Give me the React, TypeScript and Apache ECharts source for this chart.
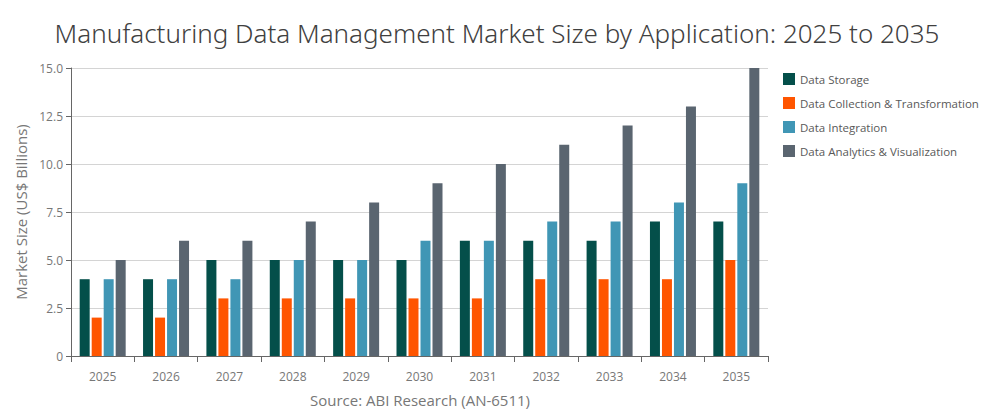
import { useEffect, useRef } from "react";
import * as echarts from "echarts";

const years = ["2025", "2026", "2027", "2028", "2029", "2030", "2031", "2032", "2033", "2034", "2035"];
const dataStorage = [4, 4, 5, 5, 5, 5, 6, 6, 6, 7, 7];
const dataCollection = [2, 2, 3, 3, 3, 3, 3, 4, 4, 4, 5];
const dataIntegration = [4, 4, 4, 5, 5, 6, 6, 7, 7, 8, 9];
const dataAnalytics = [5, 6, 6, 7, 8, 9, 10, 11, 12, 13, 15];

const seriesNames = [
  "Data Storage",
  "Data Collection & Transformation",
  "Data Integration",
  "Data Analytics & Visualization",
];
const colors = ["#044f4a", "#ff5500", "#4096b5", "#5a6570"];

const font = "'Open Sans', 'Noto Sans', sans-serif";

const App = () => {
  const chartRef = useRef<HTMLDivElement | null>(null);

  useEffect(() => {
    if (!chartRef.current) {
      return;
    }
    const instance = echarts.init(chartRef.current, undefined, { renderer: "svg" });
    const values = [dataStorage, dataCollection, dataIntegration, dataAnalytics];

    const option: echarts.EChartsOption = {
      animation: false,
      color: colors,
      textStyle: { fontFamily: font },
      title: {
        text: "Manufacturing Data Management Market Size by Application: 2025 to 2035",
        left: "center",
        top: 15,
        textStyle: {
          fontFamily: "'Noto Sans', 'Open Sans', sans-serif",
          fontSize: 26,
          fontWeight: 300,
          color: "#404040",
        },
      },
      legend: {
        orient: "vertical",
        left: 778,
        top: 68,
        itemWidth: 12,
        itemHeight: 12,
        itemGap: 12,
        icon: "rect",
        textStyle: { fontSize: 11.5, color: "#595959", fontFamily: font },
      },
      grid: { left: 71, right: 226, top: 68, bottom: 64 },
      xAxis: {
        type: "category",
        data: years,
        axisLine: { lineStyle: { color: "#666666" } },
        axisTick: { show: true, length: 6, lineStyle: { color: "#666666" } },
        axisLabel: { color: "#777777", fontSize: 12, margin: 14 },
      },
      yAxis: {
        type: "value",
        min: 0,
        max: 15,
        interval: 2.5,
        name: "Market Size (US$ Billions)",
        nameLocation: "middle",
        nameGap: 43,
        nameTextStyle: { color: "#777777", fontSize: 15, fontFamily: font },
        axisLine: { show: true, lineStyle: { color: "#666666" } },
        axisTick: { show: true, length: 5, lineStyle: { color: "#666666" } },
        axisLabel: {
          color: "#777777",
          fontSize: 12,
          margin: 8,
          formatter: (v: number) => (v === 0 ? "0" : v.toFixed(1)),
        },
        splitLine: { lineStyle: { color: "#d4d4d4" } },
      },
      series: seriesNames.map((name, i) => ({
        name,
        type: "bar" as const,
        data: values[i],
        barWidth: 10,
        barGap: "20%",
        itemStyle: { color: colors[i] },
      })),
      graphic: [
        {
          type: "text",
          x: 420,
          y: 392,
          style: {
            text: "Source: ABI Research (AN-6511)",
            fontSize: 15,
            fontFamily: font,
            fill: "#777777",
            textAlign: "center",
          },
        },
      ],
    };

    instance.setOption(option);

    return () => {
      instance.dispose();
    };
  }, []);

  return (
    <div
      ref={chartRef}
      style={{ position: "fixed", left: 0, top: 0, width: 994, height: 420, background: "#ffffff" }}
    />
  );
};

export default App;
